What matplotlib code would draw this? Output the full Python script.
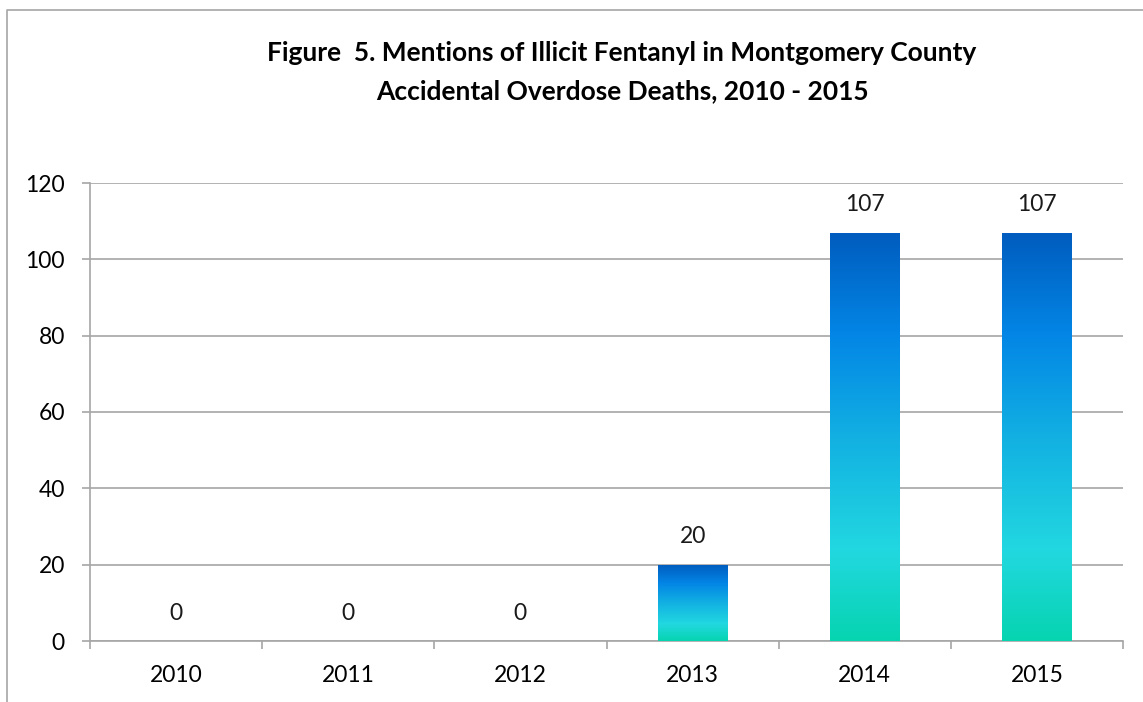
import numpy as np
import matplotlib.pyplot as plt
from matplotlib.colors import LinearSegmentedColormap
from matplotlib.lines import Line2D

years = ['2010', '2011', '2012', '2013', '2014', '2015']
deaths = [0, 0, 0, 20, 107, 107]
title = 'Figure  5. Mentions of Illicit Fentanyl in Montgomery County\nAccidental Overdose Deaths, 2010 - 2015'

plt.rcParams['font.family'] = ['Lato', 'DejaVu Sans']

grad = LinearSegmentedColormap.from_list('bar', [
    (0.0, '#06d4b0'), (0.22, '#22d8e0'), (0.5, '#12b0e2'),
    (0.75, '#0386e6'), (1.0, '#005cbe')])

fig = plt.figure(figsize=(11.43, 7.02), dpi=100)
ax = fig.add_axes([90 / 1143, 61 / 702, 1033 / 1143, 458 / 702])

x = np.arange(len(years))
w = 0.405
bars = ax.bar(x, deaths, width=w, color='none', zorder=3)
g = np.linspace(0, 1, 256).reshape(-1, 1)
for b in bars:
    h = b.get_height()
    if h <= 0:
        continue
    x0 = b.get_x()
    im = ax.imshow(g, cmap=grad, origin='lower', aspect='auto',
                   extent=[x0, x0 + w, 0, h], zorder=3)
    im.set_clip_path(b)

for xi, v in zip(x, deaths):
    ax.annotate(str(v), (xi, v), xytext=(0, 20), textcoords='offset points',
                ha='center', va='center', fontsize=16.5, color='#1a1a1a')

ax.set_xlim(-0.5, len(years) - 0.5)
ax.set_ylim(0, 120)
ax.set_yticks(range(0, 121, 20))
ax.yaxis.grid(True, color='#a6a6a6', lw=1.2)
ax.set_axisbelow(True)
ax.set_xticks(x)
ax.set_xticklabels(years)
ax.set_xticks(np.arange(-0.5, len(years)), minor=True)
ax.tick_params(axis='x', which='major', length=0, pad=17, labelsize=16.5)
ax.tick_params(axis='x', which='minor', length=6, width=1.2, color='#a6a6a6')
ax.tick_params(axis='y', length=6, width=1.2, color='#a6a6a6', pad=12, labelsize=16.5)
for s in ['top', 'right']:
    ax.spines[s].set_visible(False)
for s in ['left', 'bottom']:
    ax.spines[s].set_color('#a6a6a6')
    ax.spines[s].set_linewidth(1.2)

fig.text(622 / 1143, 1 - 72 / 702, title, ha='center', va='center',
         fontsize=19, fontweight='bold', linespacing=1.68)

fig.add_artist(Line2D([7 / 1143, 7 / 1143, 1.0], [0.0, 1 - 10 / 702, 1 - 10 / 702],
                      transform=fig.transFigure, color='#a6a6a6', lw=1.2))

fig.savefig('out.png', dpi=100)
